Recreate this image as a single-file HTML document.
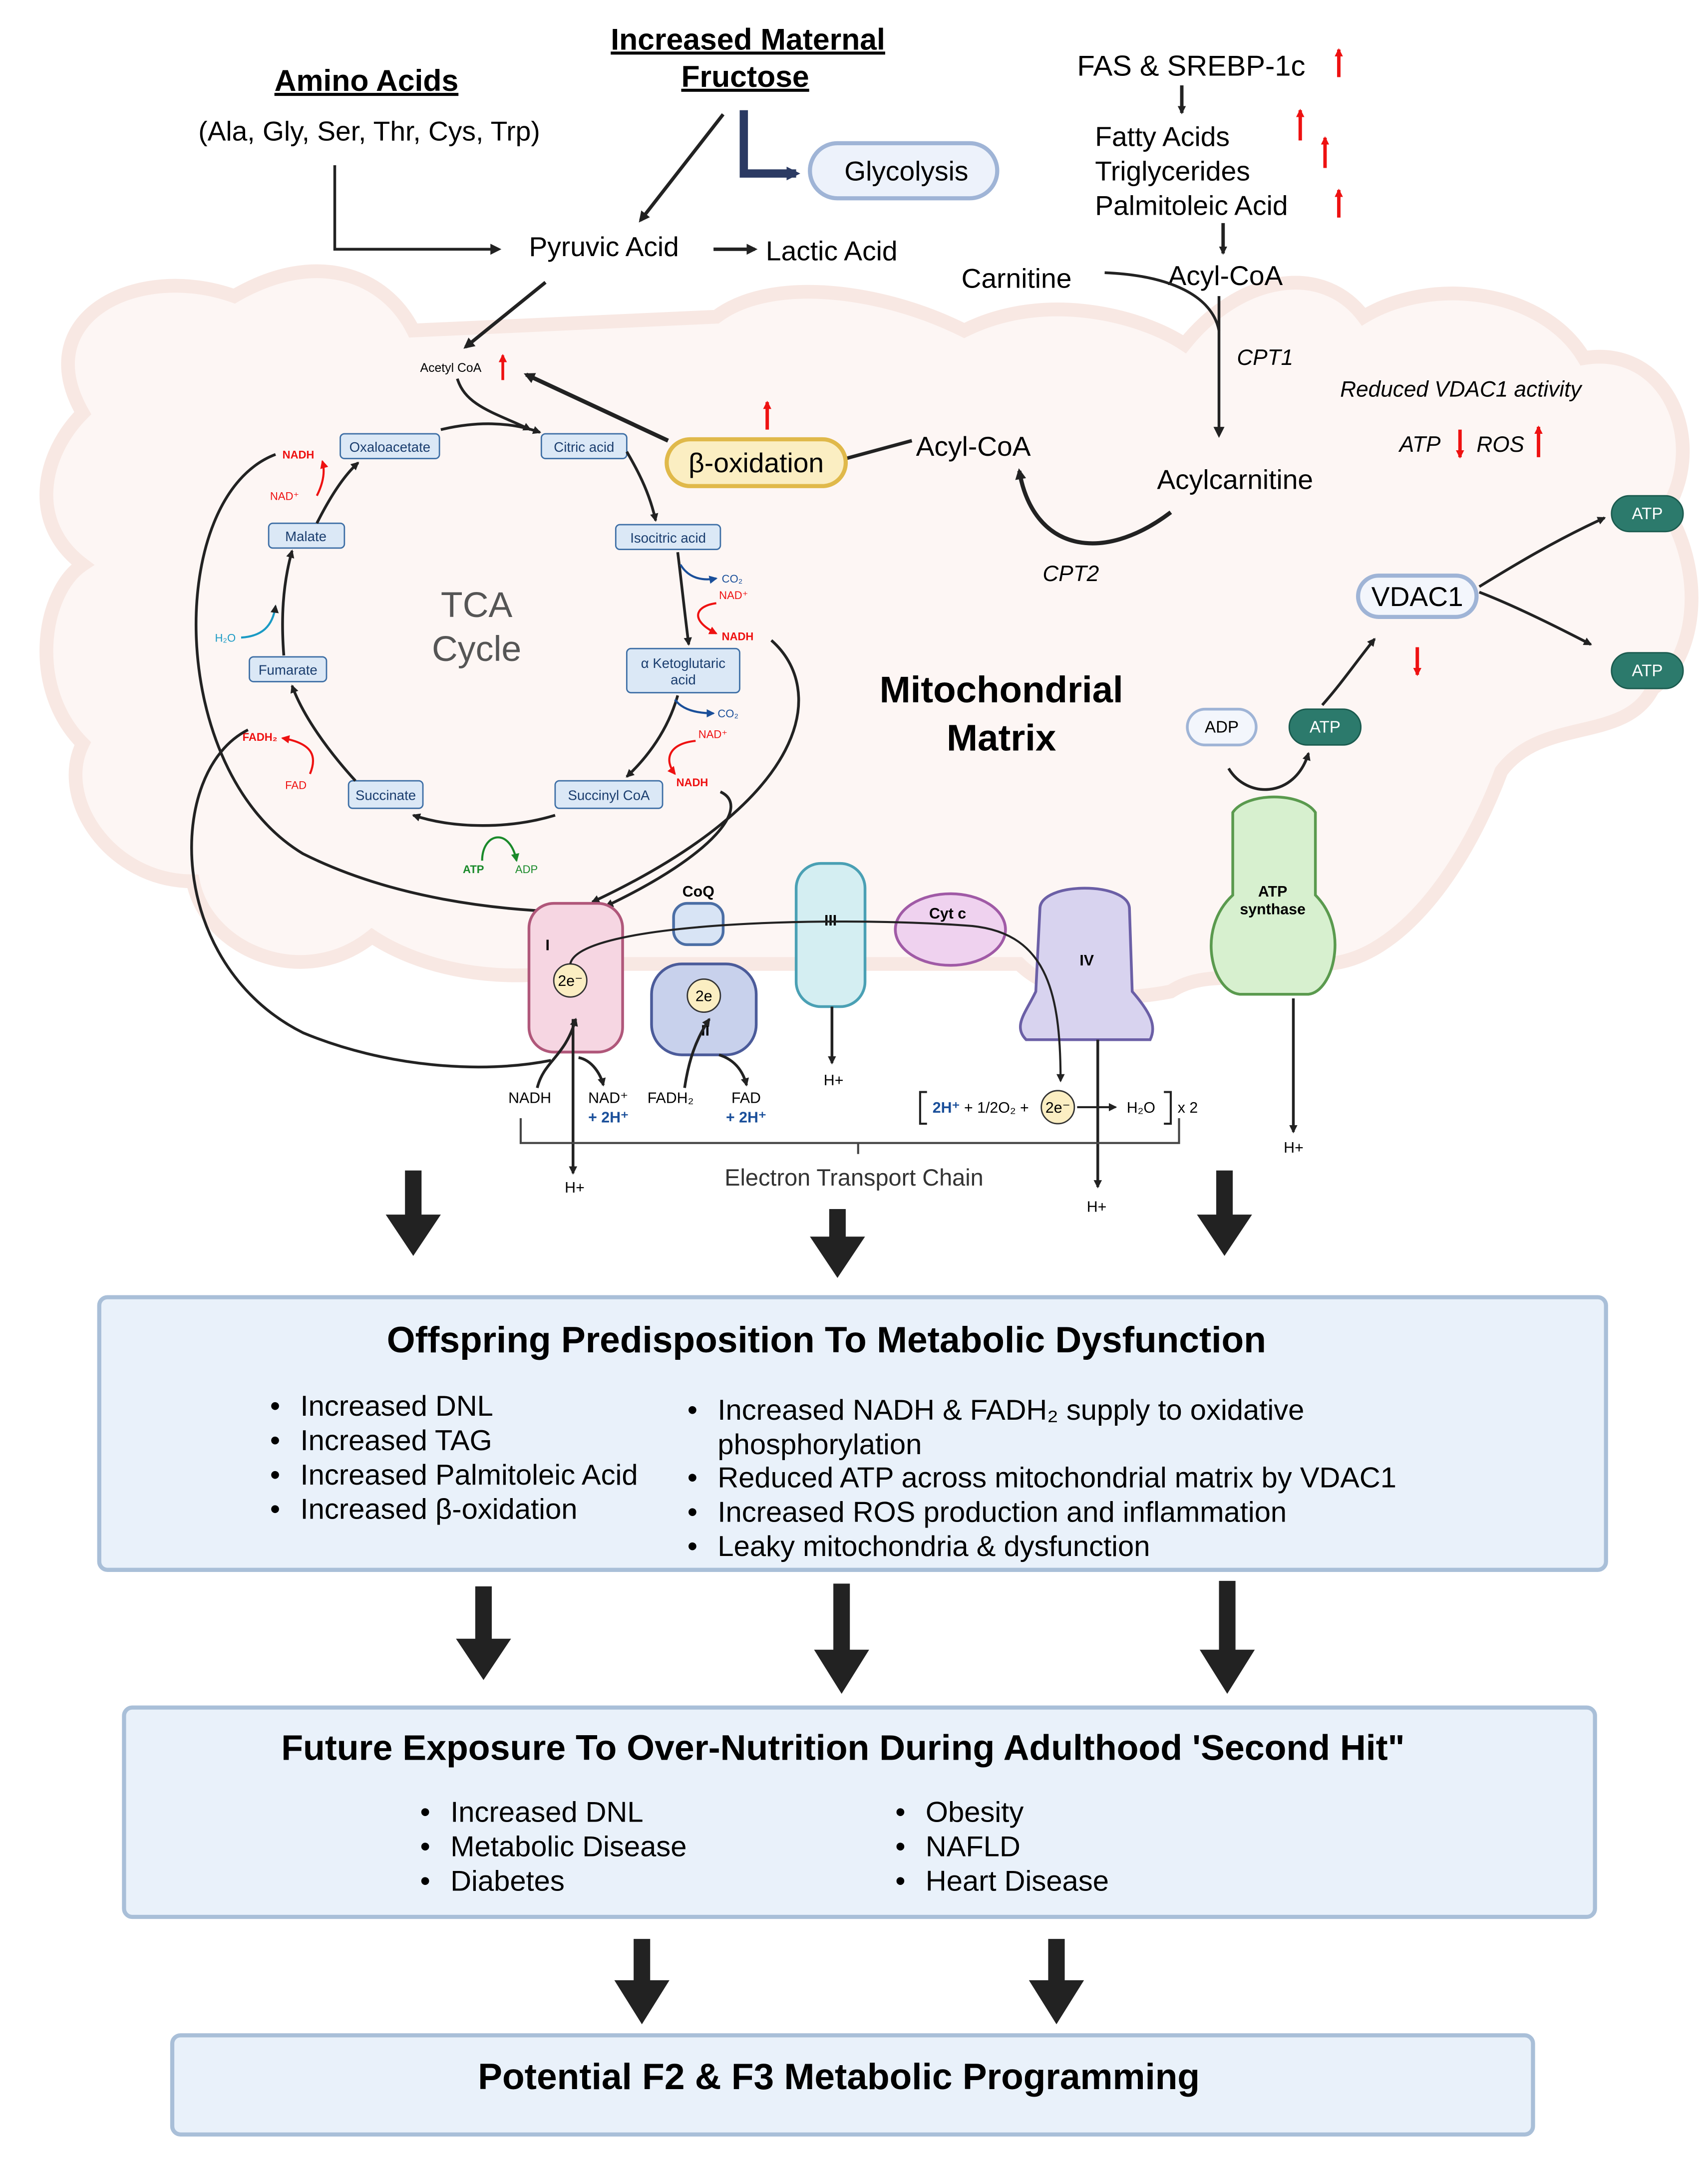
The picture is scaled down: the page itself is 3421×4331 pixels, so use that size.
<!DOCTYPE html>
<html><head><meta charset="utf-8"><style>
html,body{margin:0;padding:0;background:#fff}
svg{display:block}
text{font-family:"Liberation Sans",sans-serif}
</style></head><body>
<svg width="3421" height="4331" viewBox="0 0 1240 1570" xmlns="http://www.w3.org/2000/svg">
<defs>
<marker id="ah" markerWidth="8" markerHeight="8" refX="6" refY="4" orient="auto" markerUnits="userSpaceOnUse"><path d="M0,0 L8,4 L0,8 z" fill="#222"/></marker>
<marker id="ahs" markerWidth="6" markerHeight="6" refX="5" refY="3" orient="auto" markerUnits="userSpaceOnUse"><path d="M0,0 L6,3 L0,6 z" fill="#222"/></marker>
<marker id="ahr" markerWidth="6" markerHeight="6" refX="5" refY="3" orient="auto" markerUnits="userSpaceOnUse"><path d="M0,0 L6,3 L0,6 z" fill="#e11"/></marker>
<marker id="ahb" markerWidth="6" markerHeight="6" refX="5" refY="3" orient="auto" markerUnits="userSpaceOnUse"><path d="M0,0 L6,3 L0,6 z" fill="#1a4f9a"/></marker>
<marker id="ahg" markerWidth="6" markerHeight="6" refX="5" refY="3" orient="auto" markerUnits="userSpaceOnUse"><path d="M0,0 L6,3 L0,6 z" fill="#1a8a2a"/></marker>
<marker id="ahn" markerWidth="10" markerHeight="10" refX="7" refY="5" orient="auto" markerUnits="userSpaceOnUse"><path d="M0,0 L10,5 L0,10 z" fill="#2b3a63"/></marker>
</defs>
<!-- mitochondrion -->
<path d="M60,300 C20,230 100,190 170,215 C230,180 280,200 300,240 L520,230 C560,200 640,210 700,240 C760,210 830,230 860,250 C900,200 960,190 990,230 C1040,200 1120,210 1150,260 C1210,250 1240,320 1210,370 C1240,420 1230,480 1200,500 C1180,540 1120,520 1090,560 C1060,640 1010,700 960,700 C920,720 880,700 850,720 C800,730 760,720 740,700 L440,700 C360,720 300,700 270,680 C220,720 150,690 140,640 C80,640 40,580 60,540 C20,500 30,430 60,410 C20,380 30,330 60,300 Z" fill="#fdf6f4" stroke="#f8e8e3" stroke-width="10"/>

<!-- top texts -->
<text x="266" y="66" font-size="22" font-weight="bold" text-anchor="middle" text-decoration="underline">Amino Acids</text>
<text x="268" y="102" font-size="20" text-anchor="middle">(Ala, Gly, Ser, Thr, Cys, Trp)</text>
<text x="543" y="36" font-size="22" font-weight="bold" text-anchor="middle" text-decoration="underline">Increased Maternal</text>
<text x="541" y="63" font-size="22" font-weight="bold" text-anchor="middle" text-decoration="underline">Fructose</text>
<text x="782" y="55" font-size="21">FAS &amp; SREBP-1c</text>
<text x="795" y="106" font-size="20">Fatty Acids</text>
<text x="795" y="131" font-size="20">Triglycerides</text>
<text x="795" y="156" font-size="20">Palmitoleic Acid</text>
<g stroke="#e11" stroke-width="2.5" marker-end="url(#ahr)"><line x1="972" y1="56" x2="972" y2="36"/><line x1="944" y1="102" x2="944" y2="80"/><line x1="962" y1="122" x2="962" y2="100"/><line x1="972" y1="158" x2="972" y2="138"/></g>
<line x1="858" y1="62" x2="858" y2="82" stroke="#222" stroke-width="2.5" marker-end="url(#ahs)"/>
<line x1="888" y1="162" x2="888" y2="184" stroke="#222" stroke-width="2.5" marker-end="url(#ahs)"/>

<rect x="588" y="104" width="136" height="40" rx="20" fill="#edf2fb" stroke="#9fb4d6" stroke-width="3"/>
<text x="658" y="131" font-size="20" text-anchor="middle">Glycolysis</text>
<path d="M540,80 L540,126 L578,126" fill="none" stroke="#2b3a63" stroke-width="6" marker-end="url(#ahn)"/>
<line x1="525" y1="83" x2="465" y2="160" stroke="#222" stroke-width="2.5" marker-end="url(#ah)"/>
<path d="M243,120 L243,181 L362,181" fill="none" stroke="#222" stroke-width="2" marker-end="url(#ah)"/>
<text x="384" y="186" font-size="20">Pyruvic Acid</text>
<line x1="518" y1="181" x2="548" y2="181" stroke="#222" stroke-width="2.5" marker-end="url(#ah)"/>
<text x="556" y="189" font-size="20">Lactic Acid</text>
<line x1="396" y1="205" x2="338" y2="252" stroke="#222" stroke-width="2.5" marker-end="url(#ah)"/>

<text x="698" y="209" font-size="20">Carnitine</text>
<text x="848" y="207" font-size="20">Acyl-CoA</text>
<path d="M802,198 C850,200 880,215 885,240" fill="none" stroke="#222" stroke-width="2"/>
<line x1="885" y1="215" x2="885" y2="316" stroke="#222" stroke-width="2" marker-end="url(#ah)"/>
<text x="898" y="265" font-size="16" font-style="italic">CPT1</text>
<text x="840" y="355" font-size="20">Acylcarnitine</text>
<path d="M850,372 C800,410 750,400 740,342" fill="none" stroke="#222" stroke-width="3" marker-end="url(#ah)"/>
<text x="757" y="422" font-size="16" font-style="italic">CPT2</text>
<text x="665" y="331" font-size="20">Acyl-CoA</text>
<line x1="662" y1="320" x2="614" y2="333" stroke="#222" stroke-width="2.5"/>
<rect x="484" y="319" width="130" height="34" rx="17" fill="#fbeec2" stroke="#e0b94a" stroke-width="3"/>
<text x="549" y="343" font-size="20" text-anchor="middle">β-oxidation</text>
<line x1="557" y1="312" x2="557" y2="292" stroke="#e11" stroke-width="2.5" marker-end="url(#ahr)"/>
<line x1="485" y1="320" x2="382" y2="272" stroke="#222" stroke-width="3" marker-end="url(#ah)"/>

<text x="973" y="288" font-size="16" font-style="italic">Reduced VDAC1 activity</text>
<text x="1016" y="328" font-size="16" font-style="italic">ATP</text>
<text x="1072" y="328" font-size="16" font-style="italic">ROS</text>
<line x1="1060" y1="312" x2="1060" y2="332" stroke="#e11" stroke-width="2.5" marker-end="url(#ahr)"/>
<line x1="1117" y1="332" x2="1117" y2="310" stroke="#e11" stroke-width="2.5" marker-end="url(#ahr)"/>

<!-- TCA -->
<text x="346" y="448" font-size="26" text-anchor="middle" fill="#555">TCA</text>
<text x="346" y="480" font-size="26" text-anchor="middle" fill="#555">Cycle</text>
<g font-size="10" fill="#1a3d6e" text-anchor="middle">
<rect x="247" y="315" width="72" height="18" rx="3" fill="#dbe8f6" stroke="#3d6ea5"/><text x="283" y="328">Oxaloacetate</text>
<rect x="393" y="315" width="62" height="18" rx="3" fill="#dbe8f6" stroke="#3d6ea5"/><text x="424" y="328">Citric acid</text>
<rect x="447" y="381" width="76" height="18" rx="3" fill="#dbe8f6" stroke="#3d6ea5"/><text x="485" y="394">Isocitric acid</text>
<rect x="455" y="471" width="82" height="32" rx="3" fill="#dbe8f6" stroke="#3d6ea5"/><text x="496" y="485">α Ketoglutaric</text><text x="496" y="497">acid</text>
<rect x="403" y="567" width="78" height="20" rx="3" fill="#dbe8f6" stroke="#3d6ea5"/><text x="442" y="581">Succinyl CoA</text>
<rect x="253" y="567" width="54" height="20" rx="3" fill="#dbe8f6" stroke="#3d6ea5"/><text x="280" y="581">Succinate</text>
<rect x="181" y="477" width="56" height="18" rx="3" fill="#dbe8f6" stroke="#3d6ea5"/><text x="209" y="490">Fumarate</text>
<rect x="195" y="380" width="55" height="18" rx="3" fill="#dbe8f6" stroke="#3d6ea5"/><text x="222" y="393">Malate</text>
</g>
<text x="305" y="270" font-size="9">Acetyl CoA</text>
<line x1="365" y1="276" x2="365" y2="258" stroke="#e11" stroke-width="2" marker-end="url(#ahr)"/>
<g fill="none" stroke="#222" stroke-width="2" marker-end="url(#ahs)">
<path d="M332,275 C338,295 360,300 385,312"/>
<path d="M320,312 C345,306 370,306 392,314"/>
<path d="M455,328 C465,345 472,360 476,378"/>
<path d="M492,401 C495,425 497,445 500,468"/>
<path d="M492,505 C485,530 470,550 455,564"/>
<path d="M403,592 C370,602 330,602 300,592"/>
<path d="M258,567 C238,545 220,520 212,498"/>
<path d="M206,476 C204,450 205,425 212,400"/>
<path d="M230,380 C240,360 250,345 260,336"/>
</g>
<g font-size="8">
<text x="205" y="333" fill="#e11" font-weight="bold">NADH</text><text x="196" y="363" fill="#e11">NAD⁺</text>
<text x="524" y="423" fill="#1a4f9a">CO₂</text><text x="522" y="435" fill="#e11">NAD⁺</text><text x="524" y="465" fill="#e11" font-weight="bold">NADH</text>
<text x="521" y="521" fill="#1a4f9a">CO₂</text><text x="507" y="536" fill="#e11">NAD⁺</text><text x="491" y="571" fill="#e11" font-weight="bold">NADH</text>
<text x="176" y="538" fill="#e11" font-weight="bold">FADH₂</text><text x="207" y="573" fill="#e11">FAD</text>
<text x="156" y="466" fill="#1a9ac4">H₂O</text>
<text x="336" y="634" fill="#1a8a2a" font-weight="bold">ATP</text><text x="374" y="634" fill="#1a8a2a">ADP</text>
</g>
<path d="M175,463 C190,462 198,455 200,440" fill="none" stroke="#1a9ac4" stroke-width="1.5" marker-end="url(#ahs)"/>
<path d="M230,360 C235,350 236,342 234,335" fill="none" stroke="#e11" stroke-width="1.5" marker-end="url(#ahr)"/>
<path d="M494,410 C500,420 510,422 520,420" fill="none" stroke="#1a4f9a" stroke-width="1.5" marker-end="url(#ahb)"/>
<path d="M520,438 C505,440 500,450 520,460" fill="none" stroke="#e11" stroke-width="1.5" marker-end="url(#ahr)"/>
<path d="M490,508 C495,515 505,518 518,518" fill="none" stroke="#1a4f9a" stroke-width="1.5" marker-end="url(#ahb)"/>
<path d="M505,538 C485,540 482,552 490,562" fill="none" stroke="#e11" stroke-width="1.5" marker-end="url(#ahr)"/>
<path d="M225,562 C230,550 228,540 205,536" fill="none" stroke="#e11" stroke-width="1.5" marker-end="url(#ahr)"/>
<path d="M350,625 C350,605 370,600 375,625" fill="none" stroke="#1a8a2a" stroke-width="1.5" marker-end="url(#ahg)"/>

<text x="727" y="510" font-size="27" font-weight="bold" text-anchor="middle">Mitochondrial</text>
<text x="727" y="545" font-size="27" font-weight="bold" text-anchor="middle">Matrix</text>

<!-- long curves to ETC -->
<g fill="none" stroke="#222" stroke-width="2">
<path d="M200,330 C120,360 120,560 220,620 C280,650 350,660 405,662" marker-end="url(#ahs)"/>
<path d="M180,530 C120,560 120,700 220,750 C280,775 350,780 400,770"/>
<path d="M560,465 C600,500 590,580 430,655" marker-end="url(#ahs)"/>
<path d="M523,575 C545,585 520,620 440,658" marker-end="url(#ahs)"/>
</g>

<!-- ETC -->
<rect x="384" y="656" width="68" height="108" rx="18" fill="#f6d6e2" stroke="#b0577a" stroke-width="2"/>
<text x="396" y="690" font-size="11" font-weight="bold">I</text>
<rect x="473" y="700" width="76" height="66" rx="22" fill="#c8d1ec" stroke="#4b5b9a" stroke-width="2"/>
<text x="512" y="752" font-size="11" font-weight="bold" text-anchor="middle">II</text>
<rect x="489" y="656" width="36" height="30" rx="10" fill="#d8e4f5" stroke="#4b6ea5" stroke-width="2"/>
<text x="507" y="651" font-size="11" font-weight="bold" text-anchor="middle">CoQ</text>
<rect x="578" y="627" width="50" height="104" rx="18" fill="#d4eef2" stroke="#4aa0b4" stroke-width="2"/>
<text x="603" y="672" font-size="11" font-weight="bold" text-anchor="middle">III</text>
<ellipse cx="690" cy="675" rx="40" ry="26" fill="#efd2ef" stroke="#a05aa6" stroke-width="2"/>
<text x="688" y="667" font-size="11" font-weight="bold" text-anchor="middle">Cyt c</text>
<path d="M755,660 C755,640 820,640 820,660 L822,720 C835,735 840,745 835,755 L745,755 C735,745 745,735 752,720 Z" fill="#d8d3ef" stroke="#6b5fa6" stroke-width="2"/>
<text x="789" y="701" font-size="11" font-weight="bold" text-anchor="middle">IV</text>
<path d="M895,590 C905,575 945,575 955,590 L955,650 C980,675 968,720 950,722 L900,722 C880,720 868,675 895,650 Z" fill="#d7f0cf" stroke="#5a9a4e" stroke-width="2"/>
<text x="924" y="651" font-size="11" font-weight="bold" text-anchor="middle">ATP</text>
<text x="924" y="664" font-size="11" font-weight="bold" text-anchor="middle">synthase</text>
<circle cx="414" cy="712" r="12" fill="#fbeec2" stroke="#333"/><text x="414" y="716" font-size="11" text-anchor="middle">2e⁻</text>
<circle cx="511" cy="723" r="12" fill="#fbeec2" stroke="#333"/><text x="511" y="727" font-size="11" text-anchor="middle">2e</text>
<path d="M414,700 C420,670 600,665 700,672 C760,675 770,720 770,785" fill="none" stroke="#222" stroke-width="1.5" marker-end="url(#ahs)"/>
<g fill="none" stroke="#222" stroke-width="2" marker-end="url(#ahs)">
<path d="M390,790 C395,770 410,768 418,740"/><path d="M420,768 C430,770 436,780 438,788"/>
<path d="M497,790 C500,770 505,755 515,740"/><path d="M522,766 C535,770 540,780 542,788"/>
<line x1="416" y1="740" x2="416" y2="852"/><line x1="604" y1="731" x2="604" y2="772"/>
<line x1="797" y1="755" x2="797" y2="862"/><line x1="939" y1="725" x2="939" y2="822"/>
<path d="M892,558 C905,580 940,580 950,547"/>
<path d="M960,512 C975,495 985,480 998,464"/>
<path d="M1074,426 C1100,410 1130,392 1165,376"/>
<path d="M1074,430 C1100,440 1130,455 1155,468"/>
</g>
<g font-size="11">
<text x="369" y="801">NADH</text><text x="427" y="801">NAD⁺</text><text x="427" y="815" fill="#1a4f9a" font-weight="bold">+ 2H⁺</text>
<text x="470" y="801">FADH₂</text><text x="531" y="801">FAD</text><text x="527" y="815" fill="#1a4f9a" font-weight="bold">+ 2H⁺</text>
<text x="410" y="866">H+</text><text x="598" y="788">H+</text><text x="789" y="880">H+</text><text x="932" y="837">H+</text>
<text x="677" y="808"><tspan fill="#1a4f9a" font-weight="bold">2H⁺</tspan> + 1/2O₂ +</text>
<text x="818" y="808">H₂O</text><text x="855" y="808">x 2</text>
</g>
<circle cx="768" cy="804" r="12" fill="#fbeec2" stroke="#333"/><text x="768" y="808" font-size="11" text-anchor="middle">2e⁻</text>
<line x1="782" y1="804" x2="810" y2="804" stroke="#222" stroke-width="1.5" marker-end="url(#ahs)"/>
<path d="M673,793 L668,793 L668,816 L673,816 M845,793 L850,793 L850,816 L845,816" fill="none" stroke="#222" stroke-width="1.5"/>
<path d="M378,812 L378,830 L856,830 L856,812 M623,830 L623,838" fill="none" stroke="#444" stroke-width="1.5"/>
<text x="620" y="861" font-size="17" text-anchor="middle" fill="#333">Electron Transport Chain</text>

<rect x="862" y="515" width="50" height="26" rx="13" fill="#f3f6fc" stroke="#9fb4d6" stroke-width="2"/><text x="887" y="532" font-size="12" text-anchor="middle">ADP</text>
<rect x="936" y="515" width="52" height="26" rx="13" fill="#2c7a6c" stroke="#1a5a4e"/><text x="962" y="532" font-size="12" fill="#fff" text-anchor="middle">ATP</text>
<rect x="1170" y="360" width="52" height="26" rx="13" fill="#2c7a6c" stroke="#1a5a4e"/><text x="1196" y="377" font-size="12" fill="#fff" text-anchor="middle">ATP</text>
<rect x="1170" y="474" width="52" height="26" rx="13" fill="#2c7a6c" stroke="#1a5a4e"/><text x="1196" y="491" font-size="12" fill="#fff" text-anchor="middle">ATP</text>
<rect x="986" y="418" width="86" height="30" rx="15" fill="#f3f6fc" stroke="#9fb4d6" stroke-width="3"/><text x="1029" y="440" font-size="20" text-anchor="middle">VDAC1</text>
<line x1="1029" y1="470" x2="1029" y2="490" stroke="#e11" stroke-width="2.5" marker-end="url(#ahr)"/>

<!-- big arrows -->
<g fill="#222">
<path d="M294,850 h12 v32 h14 l-20,30 l-20,-30 h14 z"/>
<path d="M602,878 h12 v20 h14 l-20,30 l-20,-30 h14 z"/>
<path d="M883,850 h12 v32 h14 l-20,30 l-20,-30 h14 z"/>
<path d="M345,1152 h12 v38 h14 l-20,30 l-20,-30 h14 z"/>
<path d="M605,1150 h12 v48 h14 l-20,32 l-20,-32 h14 z"/>
<path d="M885,1148 h12 v50 h14 l-20,32 l-20,-32 h14 z"/>
<path d="M460,1408 h12 v30 h14 l-20,32 l-20,-32 h14 z"/>
<path d="M761,1408 h12 v30 h14 l-20,32 l-20,-32 h14 z"/>
</g>

<!-- boxes -->
<rect x="72" y="942" width="1094" height="198" rx="6" fill="#e9f1fa" stroke="#a9bfd8" stroke-width="3"/>
<text x="600" y="982" font-size="26.5" font-weight="bold" text-anchor="middle">Offspring Predisposition To Metabolic Dysfunction</text>
<g font-size="21">
<text x="196" y="1028">•</text><text x="218" y="1028">Increased DNL</text>
<text x="196" y="1053">•</text><text x="218" y="1053">Increased TAG</text>
<text x="196" y="1078">•</text><text x="218" y="1078">Increased Palmitoleic Acid</text>
<text x="196" y="1103">•</text><text x="218" y="1103">Increased β-oxidation</text>
<text x="499" y="1031">•</text><text x="521" y="1031">Increased NADH &amp; FADH₂ supply to oxidative</text>
<text x="521" y="1056">phosphorylation</text>
<text x="499" y="1080">•</text><text x="521" y="1080">Reduced ATP across mitochondrial matrix by VDAC1</text>
<text x="499" y="1105">•</text><text x="521" y="1105">Increased ROS production and inflammation</text>
<text x="499" y="1130">•</text><text x="521" y="1130">Leaky mitochondria &amp; dysfunction</text>
</g>
<rect x="90" y="1240" width="1068" height="152" rx="6" fill="#e9f1fa" stroke="#a9bfd8" stroke-width="3"/>
<text x="612" y="1278" font-size="26" font-weight="bold" text-anchor="middle">Future Exposure To Over-Nutrition During Adulthood 'Second Hit"</text>
<g font-size="21">
<text x="305" y="1323">•</text><text x="327" y="1323">Increased DNL</text>
<text x="305" y="1348">•</text><text x="327" y="1348">Metabolic Disease</text>
<text x="305" y="1373">•</text><text x="327" y="1373">Diabetes</text>
<text x="650" y="1323">•</text><text x="672" y="1323">Obesity</text>
<text x="650" y="1348">•</text><text x="672" y="1348">NAFLD</text>
<text x="650" y="1373">•</text><text x="672" y="1373">Heart Disease</text>
</g>
<rect x="125" y="1478" width="988" height="72" rx="6" fill="#e9f1fa" stroke="#a9bfd8" stroke-width="3"/>
<text x="609" y="1517" font-size="26.5" font-weight="bold" text-anchor="middle">Potential F2 &amp; F3 Metabolic Programming</text>
</svg>
</body></html>
